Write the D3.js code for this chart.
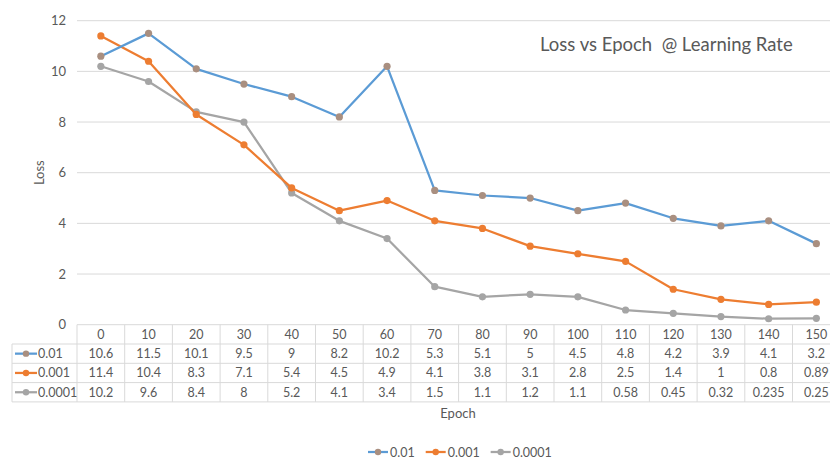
<!DOCTYPE html>
<html>
<head>
<meta charset="utf-8">
<script src="https://cdn.jsdelivr.net/npm/d3@7"></script>
<style>
  html, body { margin: 0; padding: 0; background: #fff; }
  svg { display: block; font-family: Lato, "Open Sans", sans-serif; }
</style>
</head>
<body>
<svg id="chart" width="830" height="459"></svg>
<script>
// Epochs along the x axis
const epochs = [0, 10, 20, 30, 40, 50, 60, 70, 80, 90, 100, 110, 120, 130, 140, 150];

// Loss per learning rate
const lossLr001 = [10.6, 11.5, 10.1, 9.5, 9, 8.2, 10.2, 5.3, 5.1, 5, 4.5, 4.8, 4.2, 3.9, 4.1, 3.2];
const lossLr0001 = [11.4, 10.4, 8.3, 7.1, 5.4, 4.5, 4.9, 4.1, 3.8, 3.1, 2.8, 2.5, 1.4, 1, 0.8, 0.89];
const lossLr00001 = [10.2, 9.6, 8.4, 8, 5.2, 4.1, 3.4, 1.5, 1.1, 1.2, 1.1, 0.58, 0.45, 0.32, 0.235, 0.25];

const seriesNames = ["0.01", "0.001", "0.0001"];
const yTicks = [0, 2, 4, 6, 8, 10, 12];

const series = [
  { name: seriesNames[0], values: lossLr001, line: "#5B9BD5", marker: "#A98F80" },
  { name: seriesNames[1], values: lossLr0001, line: "#ED7D31", marker: "#ED7D31" },
  { name: seriesNames[2], values: lossLr00001, line: "#A5A5A5", marker: "#A5A5A5" }
];

const svg = d3.select("#chart");
const textColor = "#595959";
const gridColor = "#D9D9D9";
const fs = 12.5;

const plotLeft = 77, colW = 47.7;
const plotRight = plotLeft + colW * epochs.length;
const plotTop = 20.7, plotBottom = 324.7;

const x = d3.scaleBand().domain(epochs).range([plotLeft, plotRight]).padding(0);
const y = d3.scaleLinear().domain([0, 12]).range([plotBottom, plotTop]);
const cx = d => x(d) + x.bandwidth() / 2;

// Horizontal gridlines
svg.append("g").selectAll("line")
  .data(yTicks.filter(t => t > 0))
  .join("line")
  .attr("x1", plotLeft).attr("x2", plotRight)
  .attr("y1", d => y(d)).attr("y2", d => y(d))
  .attr("stroke", gridColor).attr("stroke-width", 1);

// Y axis tick labels
const yAxis = d3.axisLeft(y).tickValues(yTicks).tickSize(0).tickPadding(0);
const yg = svg.append("g").attr("transform", `translate(${plotLeft - 11},0)`).call(yAxis);
yg.select(".domain").remove();
yg.selectAll("text")
  .attr("fill", textColor).attr("font-size", 13)
  .attr("font-family", "Lato, 'Open Sans', sans-serif");

// Y axis title
svg.append("text")
  .attr("transform", `translate(44,${(plotTop + plotBottom) / 2}) rotate(-90)`)
  .attr("text-anchor", "middle")
  .attr("fill", textColor).attr("font-size", 13)
  .text("Loss");

// Chart title
svg.append("text")
  .attr("x", 540).attr("y", 51)
  .attr("fill", textColor).attr("font-size", 18.5)
  .attr("xml:space", "preserve")
  .style("white-space", "pre")
  .text("Loss vs Epoch  @ Learning Rate");

// Series lines and markers
const line = d3.line().x((d, i) => cx(epochs[i])).y(d => y(d));
series.slice().reverse().forEach(s => {
  const g = svg.append("g");
  g.append("path")
    .datum(s.values)
    .attr("d", line)
    .attr("fill", "none")
    .attr("stroke", s.line)
    .attr("stroke-width", 2.25)
    .attr("stroke-linejoin", "round");
  g.selectAll("circle")
    .data(s.values)
    .join("circle")
    .attr("cx", (d, i) => cx(epochs[i]))
    .attr("cy", d => y(d))
    .attr("r", 3.6)
    .attr("fill", s.marker);
});

// Data table under the plot
const rowH = 19.3;
const tableLeft = 12;
const table = svg.append("g");

// header row border
table.append("line").attr("x1", plotLeft).attr("x2", plotRight)
  .attr("y1", plotBottom).attr("y2", plotBottom)
  .attr("stroke", gridColor);
// row borders
for (let r = 1; r <= 4; r++) {
  table.append("line")
    .attr("x1", tableLeft).attr("x2", plotRight)
    .attr("y1", plotBottom + r * rowH).attr("y2", plotBottom + r * rowH)
    .attr("stroke", gridColor);
}
// column borders
table.selectAll("line.col")
  .data(epochs)
  .join("line")
  .attr("class", "col")
  .attr("x1", d => x(d)).attr("x2", d => x(d))
  .attr("y1", plotBottom).attr("y2", plotBottom + 4 * rowH)
  .attr("stroke", gridColor);
table.append("line")
  .attr("x1", tableLeft).attr("x2", tableLeft)
  .attr("y1", plotBottom + rowH).attr("y2", plotBottom + 4 * rowH)
  .attr("stroke", gridColor);

// header labels
table.selectAll("text.head")
  .data(epochs)
  .join("text")
  .attr("class", "head")
  .attr("x", d => cx(d))
  .attr("y", plotBottom + rowH / 2 + 4.5)
  .attr("text-anchor", "middle")
  .attr("fill", textColor).attr("font-size", fs)
  .text(d => d);

// value rows
series.forEach((s, r) => {
  const rowY = plotBottom + (r + 1) * rowH;
  const row = table.append("g");
  row.selectAll("text")
    .data(s.values)
    .join("text")
    .attr("x", (d, i) => cx(epochs[i]))
    .attr("y", rowY + rowH / 2 + 4.5)
    .attr("text-anchor", "middle")
    .attr("fill", textColor).attr("font-size", fs)
    .text(d => d);
  // legend key in the row header
  row.append("line")
    .attr("x1", 15).attr("x2", 37)
    .attr("y1", rowY + rowH / 2).attr("y2", rowY + rowH / 2)
    .attr("stroke", s.line).attr("stroke-width", 2.25);
  row.append("circle")
    .attr("cx", 26).attr("cy", rowY + rowH / 2).attr("r", 3.2)
    .attr("fill", s.marker);
  row.append("text")
    .attr("x", 38).attr("y", rowY + rowH / 2 + 4.5)
    .attr("fill", textColor).attr("font-size", fs)
    .text(s.name);
});

// X axis title
svg.append("text")
  .attr("x", 458).attr("y", 418)
  .attr("text-anchor", "middle")
  .attr("fill", textColor).attr("font-size", 13)
  .text("Epoch");

// Bottom legend
const legend = svg.append("g");
let lx = 368;
const ly = 452;
series.forEach(s => {
  const item = legend.append("g");
  item.append("line")
    .attr("x1", lx).attr("x2", lx + 20)
    .attr("y1", ly).attr("y2", ly)
    .attr("stroke", s.line).attr("stroke-width", 2.25);
  item.append("circle")
    .attr("cx", lx + 10).attr("cy", ly).attr("r", 3.2)
    .attr("fill", s.marker);
  const t = item.append("text")
    .attr("x", lx + 22).attr("y", ly + 4.5)
    .attr("fill", textColor).attr("font-size", fs)
    .text(s.name);
  lx += 22 + t.node().getComputedTextLength() + 11;
});
</script>
</body>
</html>
